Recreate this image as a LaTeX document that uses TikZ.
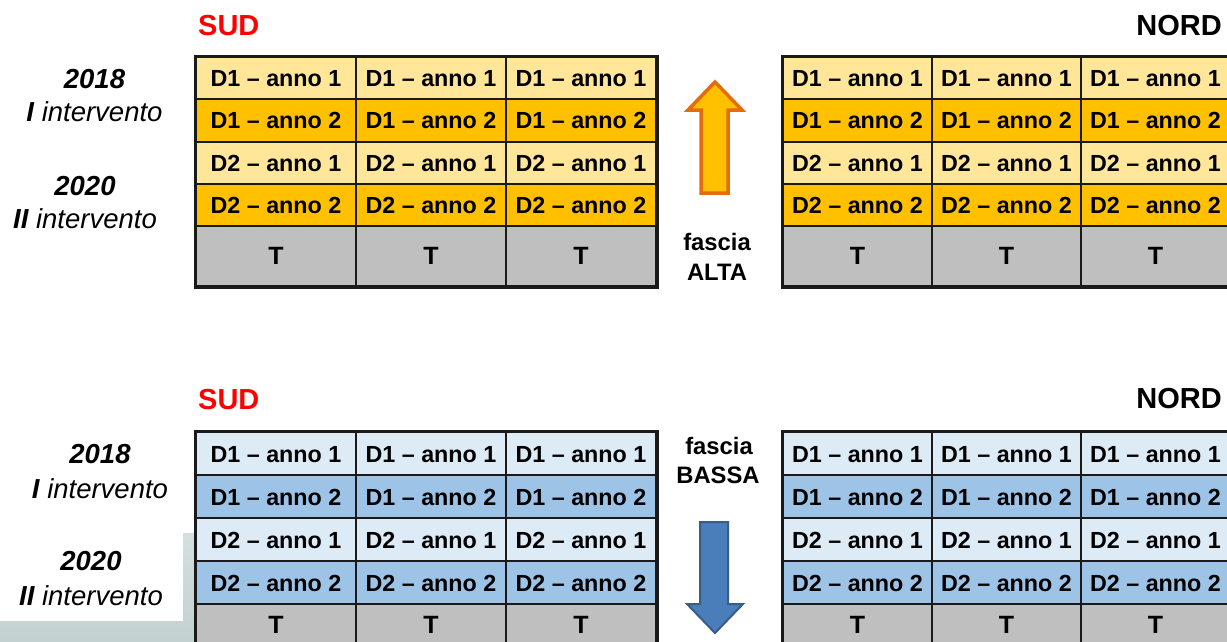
\documentclass[tikz,border=0pt]{standalone}
\usepackage{fontspec}
\setmainfont{Liberation Sans}
\definecolor{ylight}{HTML}{FFE699}
\definecolor{ydark}{HTML}{FFC000}
\definecolor{blight}{HTML}{DDEBF7}
\definecolor{bdark}{HTML}{9DC3E6}
\definecolor{tgrey}{HTML}{BFBFBF}
\definecolor{sudred}{HTML}{FF0000}
\definecolor{aorange}{HTML}{E46C0A}
\definecolor{ablue}{HTML}{4A7EBB}
\definecolor{ablueline}{HTML}{385D8A}
\definecolor{bggreytop}{HTML}{D4DFDF}
\definecolor{bggreybot}{HTML}{C3D1D1}
\definecolor{lineblk}{HTML}{1A1A1A}
\tikzset{
  cell/.style={draw=lineblk, line width=2pt, anchor=north west, inner sep=0pt,
    text height=17pt, text depth=0pt, font=\bfseries\fontsize{23.3}{28}\selectfont},
  tcell/.style={cell, fill=tgrey, font=\bfseries\fontsize{25}{30}\selectfont},
  outer/.style={draw=lineblk, line width=3pt},
  side/.style={font=\bfseries\fontsize{29}{34}\selectfont, anchor=base west, inner sep=0pt},
  lab/.style={font=\itshape\fontsize{27.5}{33}\selectfont, anchor=base, inner sep=0pt},
  fascia/.style={font=\bfseries\fontsize{23.8}{28}\selectfont, anchor=base, inner sep=0pt},
}
% #1 prefix, #2 x0, #3 first col width, #4 other col width, #5 y top, #6 light, #7 dark, #8 row height, #9 T row height
\newcommand\mytable[9]{%
  \foreach \r/\lab/\col in {0/D1 -- anno 1/#6, 1/D1 -- anno 2/#7, 2/D2 -- anno 1/#6, 3/D2 -- anno 2/#7}{
    \foreach \c in {0,1,2}{
      \pgfmathsetmacro\xx{#2 + (\c>0)*#3 + max(\c-1,0)*#4}
      \pgfmathsetmacro\ww{(\c==0)*#3 + (\c>0)*#4}
      \pgfmathsetmacro\yy{#5 + \r*#8}
      \node[cell, fill=\col, minimum width=\ww pt, minimum height=#8 pt] (#1-\r-\c) at (\xx,\yy) {\lab};
    }
  }
  \foreach \c in {0,1,2}{
    \pgfmathsetmacro\xx{#2 + (\c>0)*#3 + max(\c-1,0)*#4}
    \pgfmathsetmacro\ww{(\c==0)*#3 + (\c>0)*#4}
    \pgfmathsetmacro\yy{#5 + 4*#8}
    \node[tcell, minimum width=\ww pt, minimum height=#9 pt] (#1-4-\c) at (\xx,\yy) {T};
  }
  \draw[outer] (#1-0-0.north west) rectangle (#1-4-2.south east);
}
\begin{document}
\begin{tikzpicture}[x=1pt, y=-1pt]
\clip (0,0) rectangle (1227,641);
\fill[white] (0,0) rectangle (1227,641);
% slide background in the lower left corner
\shade[top color=bggreytop, bottom color=bggreybot] (0,533) rectangle (196,641);
\fill[white] (0,533) rectangle (183,621);

% ---------- upper half: fascia ALTA ----------
\node[side, text=sudred] (sud1) at (198,35) {SUD};
\node[side, anchor=base east] (nord1) at (1222,35) {NORD};
\mytable{ts}{195}{160}{150}{56}{ylight}{ydark}{42.25}{60}
\mytable{tn}{782}{149}{149}{56}{ylight}{ydark}{42.25}{60}

\node[lab] (y18a) at (94.5,88) {\bfseries 2018};
\node[lab] (i18a) at (94.5,121) {{\bfseries I} intervento};
\node[lab] (y20a) at (85,195) {\bfseries 2020};
\node[lab] (i20a) at (85,228) {{\bfseries II} intervento};

\filldraw[fill=ydark, draw=aorange, line width=3.5pt, line join=miter]
  (715,82) -- (742,110) -- (728,110) -- (728,193) -- (701,193) -- (701,110) -- (688,110) -- cycle;
\node[fascia] (fa1) at (717,250) {fascia};
\node[fascia] (fa2) at (717,280) {ALTA};

% ---------- lower half: fascia BASSA ----------
\node[side, text=sudred] (sud2) at (198,409) {SUD};
\node[side, anchor=base east] (nord2) at (1222,408) {NORD};
\mytable{bs}{195}{160}{150}{431}{blight}{bdark}{43}{42}
\mytable{bn}{782}{149}{149}{431}{blight}{bdark}{43}{42}

\node[lab] (y18b) at (100,463) {\bfseries 2018};
\node[lab] (i18b) at (100,498) {{\bfseries I} intervento};
\node[lab] (y20b) at (91,570) {\bfseries 2020};
\node[lab] (i20b) at (91,605) {{\bfseries II} intervento};

\filldraw[fill=ablue, draw=ablueline, line width=2pt, line join=miter]
  (700,522) -- (728,522) -- (728,604) -- (743,604) -- (715,633) -- (687,604) -- (700,604) -- cycle;
\node[fascia] (fb1) at (719,454) {fascia};
\node[fascia] (fb2) at (718,483) {BASSA};
\end{tikzpicture}
\end{document}
